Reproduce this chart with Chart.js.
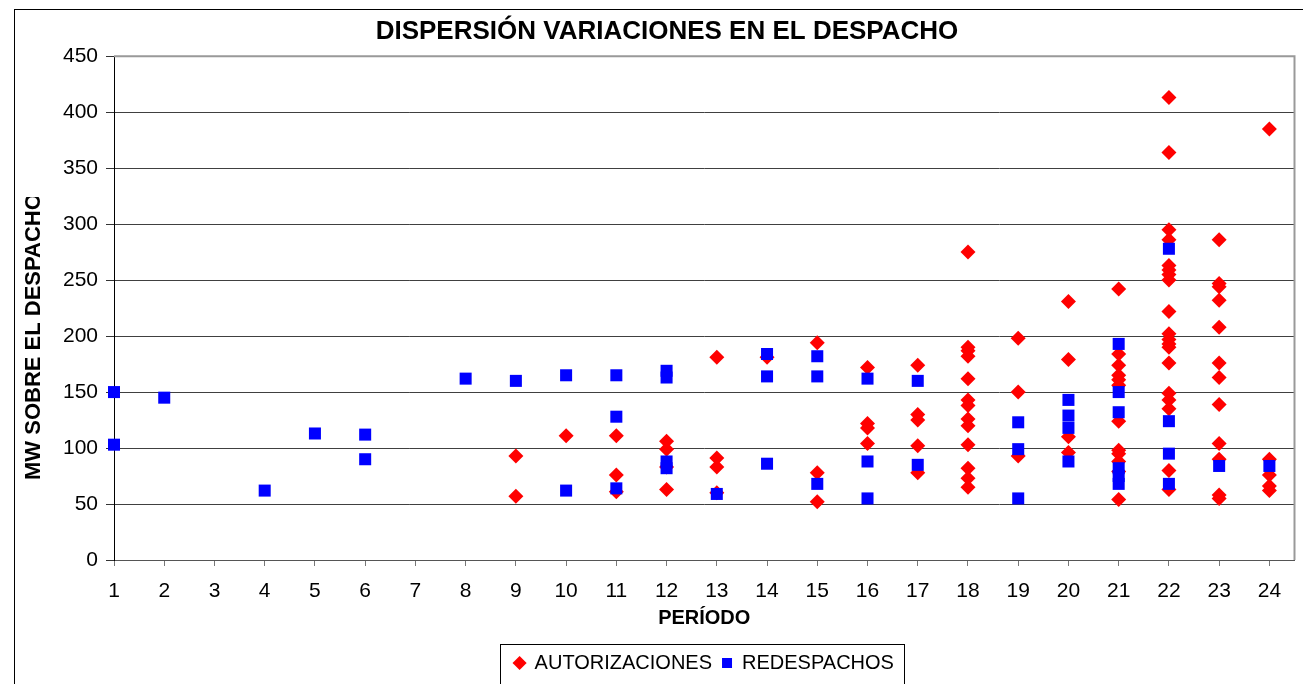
<!DOCTYPE html>
<html>
<head>
<meta charset="utf-8">
<title>Dispersión variaciones en el despacho</title>
<script src="https://cdn.jsdelivr.net/npm/chart.js@4.4.1/dist/chart.umd.min.js"></script>
<style>
  html, body { margin: 0; padding: 0; background: #fff; }
  #wrap { width: 1303px; height: 684px; }
</style>
</head>
<body>
<div id="wrap"><canvas id="chart" width="1303" height="684"></canvas></div>
<script>
// MW por período (1..24)
const periodos = [1, 2, 3, 4, 5, 6, 7, 8, 9, 10, 11, 12, 13, 14, 15, 16, 17, 18, 19, 20, 21, 22, 23, 24];

const autorizaciones = [
  [], [], [], [], [], [], [], [],
  [93, 57],
  [111],
  [111, 76, 61],
  [106, 99, 83, 63],
  [181, 91, 83, 60],
  [181],
  [194, 78, 52],
  [172, 122, 118, 104],
  [174, 130, 125, 102, 78],
  [275, 190, 187, 182, 162, 143, 138, 126, 120, 103, 82, 73, 65],
  [198, 150, 93],
  [231, 179, 110, 96],
  [242, 184, 174, 165, 161, 156, 124, 98, 95, 88, 79, 54],
  [413, 364, 295, 286, 263, 259, 255, 250, 222, 202, 197, 193, 190, 176, 149, 143, 135, 80, 63],
  [286, 247, 244, 232, 208, 176, 163, 139, 104, 90, 58, 55],
  [385, 90, 76, 66, 62]
];

const redespachos = [
  [150, 103],
  [145],
  [],
  [62],
  [113],
  [112, 90],
  [],
  [162],
  [160],
  [165, 62],
  [165, 128, 64],
  [169, 163, 88, 82],
  [59],
  [184, 164, 86],
  [182, 164, 68],
  [162, 88, 55],
  [160, 85],
  [],
  [123, 99, 55],
  [143, 129, 118, 88],
  [193, 150, 132, 82, 75, 68],
  [278, 124, 95, 68],
  [84],
  [84]
];

const toPoints = (series) =>
  periodos.flatMap((p, i) => series[i].map(v => ({ x: p, y: v })));

const FONT = 'Arial, "Liberation Sans", sans-serif';

// marco exterior, borde del área de trazado, caja de leyenda y título del eje Y (recortado)
const decorPlugin = {
  id: 'decor',
  afterDraw(chart) {
    const ctx = chart.ctx;
    const a = chart.chartArea;
    ctx.save();

    // marco exterior
    ctx.strokeStyle = '#000';
    ctx.lineWidth = 1;
    ctx.strokeRect(14.5, 9.5, 1400, 1000);

    // borde superior y derecho del área de trazado
    ctx.strokeStyle = '#999';
    ctx.lineWidth = 2;
    ctx.beginPath();
    ctx.moveTo(a.left, a.top);
    ctx.lineTo(a.right, a.top);
    ctx.lineTo(a.right, a.bottom);
    ctx.stroke();

    // caja de la leyenda
    const hb = chart.legend.legendHitBoxes;
    if (hb && hb.length) {
      const first = hb[0], last = hb[hb.length - 1];
      const lx = Math.round(first.left - 15) + 0.5;
      const rx = Math.round(last.left + last.width + 10) + 0.5;
      const ty = Math.round(first.top - 9) + 0.5;
      ctx.strokeStyle = '#000';
      ctx.lineWidth = 1;
      ctx.strokeRect(lx, ty, rx - lx, 200);
    }

    // título del eje Y
    ctx.beginPath();
    ctx.rect(0, 197, 80, 400);
    ctx.clip();
    ctx.translate(34, 480);
    ctx.rotate(-Math.PI / 2);
    ctx.fillStyle = '#000';
    ctx.font = 'bold 22px ' + FONT;
    ctx.textAlign = 'left';
    ctx.textBaseline = 'middle';
    ctx.fillText('MW SOBRE EL DESPACHO', 0, 0);
    ctx.restore();
  }
};

new Chart(document.getElementById('chart').getContext('2d'), {
  type: 'scatter',
  plugins: [decorPlugin],
  data: {
    datasets: [
      {
        label: 'AUTORIZACIONES',
        data: toPoints(autorizaciones),
        pointStyle: 'rectRot',
        pointRadius: 7.5,
        pointHoverRadius: 7.5,
        backgroundColor: '#ff0000',
        borderColor: '#ff0000',
        borderWidth: 0,
        order: 2,
        clip: false
      },
      {
        label: 'REDESPACHOS',
        data: toPoints(redespachos),
        pointStyle: 'rect',
        pointRadius: 8.5,
        pointHoverRadius: 8.5,
        backgroundColor: '#0000ff',
        borderColor: '#0000ff',
        borderWidth: 0,
        order: 1,
        clip: false
      }
    ]
  },
  options: {
    responsive: false,
    animation: false,
    layout: {
      padding: { left: 36, right: 5, top: 0, bottom: 1 }
    },
    plugins: {
      title: {
        display: true,
        text: 'DISPERSIÓN VARIACIONES EN EL DESPACHO',
        color: '#000',
        font: { family: FONT, size: 26, weight: 'bold' },
        padding: { top: 16, bottom: 9 }
      },
      legend: {
        position: 'bottom',
        fullSize: false,
        labels: {
          usePointStyle: true,
          boxWidth: 10,
          boxHeight: 10,
          padding: 10,
          color: '#000',
          font: { family: FONT, size: 20 },
          sort: (a, b) => a.datasetIndex - b.datasetIndex
        }
      },
      tooltip: { enabled: false }
    },
    scales: {
      x: {
        type: 'linear',
        min: 1,
        max: 24.5,
        afterBuildTicks: (scale) => {
          scale.ticks = periodos.map(p => ({ value: p }));
        },
        afterFit: (scale) => { scale.height = 83; },
        ticks: {
          stepSize: 1,
          color: '#000',
          padding: 13,
          maxRotation: 0,
          autoSkip: false,
          font: { family: FONT, size: 21 }
        },
        grid: {
          drawOnChartArea: false,
          drawTicks: true,
          tickLength: 6,
          tickColor: '#777'
        },
        border: { color: '#555', width: 1 },
        title: {
          display: true,
          text: 'PERÍODO',
          color: '#000',
          font: { family: FONT, size: 20, weight: 'bold' },
          padding: { top: 0, bottom: 13 }
        }
      },
      y: {
        min: 0,
        max: 450,
        afterFit: (scale) => { scale.width = 78; },
        ticks: {
          stepSize: 50,
          color: '#000',
          padding: 8,
          font: { family: FONT, size: 21 }
        },
        grid: {
          color: (ctx) => ctx.tick && ctx.tick.value === 450 ? '#999' : '#404040',
          tickColor: '#333',
          tickLength: 8,
          lineWidth: 1
        },
        border: { color: '#000', width: 1 }
      }
    }
  }
});
</script>
</body>
</html>
